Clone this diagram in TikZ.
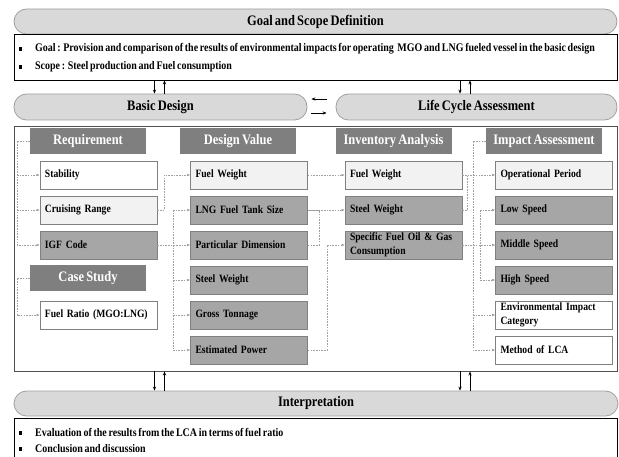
\documentclass[tikz,border=0pt]{standalone}
\usepackage{fontspec}
\setmainfont{Liberation Serif}
\newfontfamily\cf{Liberation Serif}[FakeStretch=0.86,WordSpace=0.7]
\usetikzlibrary{arrows.meta,calc}
\definecolor{pillfill}{HTML}{D9D9D9}
\definecolor{pillbd}{HTML}{A0A0A0}
\definecolor{hdrc}{HTML}{7F7F7F}
\definecolor{boxgray}{HTML}{A6A6A6}
\definecolor{boxlight}{HTML}{F2F2F2}
\definecolor{bordc}{HTML}{808080}
\definecolor{dashc}{HTML}{A0A0A0}
\definecolor{bigbd}{HTML}{505050}
\begin{document}
\begin{tikzpicture}[x=1pt,y=-1pt,
  pill/.style={draw=pillbd, line width=0.8pt, fill=pillfill, rounded corners=12.5pt, inner sep=0pt,
    font=\cf\bfseries\fontsize{14.5}{16}\selectfont},
  hdr/.style={fill=hdrc, draw=none, text=white, inner sep=0pt, minimum width=116pt, minimum height=26pt,
    font=\cf\bfseries\fontsize{14.5}{16}\selectfont},
  bx/.style={draw=bordc, line width=0.6pt, text width=107pt, inner xsep=5pt, inner ysep=0pt,
    minimum height=28pt, align=left, font=\cf\bfseries\fontsize{11.2}{14}\selectfont},
  wbx/.style={bx, fill=white},
  lbx/.style={bx, fill=boxlight},
  gbx/.style={bx, fill=boxgray},
  frame/.style={draw=black, line width=0.8pt, fill=white, inner sep=0pt},
  bul/.style={inner sep=0pt, anchor=base west, font=\cf\bfseries\fontsize{11.6}{13}\selectfont},
  blk/.style={draw=black, line width=0.6pt, -{Stealth[length=4pt,width=3.2pt]}},
  dl/.style={draw=dashc, line width=0.5pt, dash pattern=on 1.6pt off 1.1pt},
  dla/.style={dl, -{Latex[length=3pt,width=2.6pt]}}
]
\useasboundingbox (0,0) rectangle (619,457);

% Top part
\node[pill, minimum width=603pt, minimum height=25pt] (gsd) at (315.5,21.5) {Goal and Scope Definition};
\node[frame, minimum width=603pt, minimum height=46pt] (gb) at (315.5,57) {};
\node[bul] (g1) at (18.5,52) {\makebox[16.5pt][l]{\rule[1.2pt]{3pt}{3.5pt}}Goal : Provision and comparison of the results of environmental impacts for operating \ MGO and LNG fueled vessel in the basic design};
\node[bul] (g2) at (18.5,70) {\makebox[16.5pt][l]{\rule[1.2pt]{3pt}{3.5pt}}Scope : Steel production and Fuel consumption};

\node[pill, minimum width=293pt, minimum height=26pt] (bd) at (160.5,107) {Basic Design};
\node[pill, minimum width=281pt, minimum height=26pt] (lca) at (476.5,107) {Life Cycle Assessment};

\draw[blk] ([xshift=-6pt]bd.north |- gb.south) -- ([xshift=-6pt]bd.north);
\draw[blk] ([xshift=4pt]bd.north) -- ([xshift=4pt]bd.north |- gb.south);
\draw[blk] ([xshift=-16.5pt]lca.north |- gb.south) -- ([xshift=-16.5pt]lca.north);
\draw[blk] ([xshift=-6.5pt]lca.north) -- ([xshift=-6.5pt]lca.north |- gb.south);

\draw[blk] ($(lca.west)+(-9,-8)$) -- ($(bd.east)+(4,-8)$);
\draw[blk] ($(bd.east)+(4,6)$) -- ($(lca.west)+(-9,6)$);

% Big frame
\node[draw=bigbd, line width=0.9pt, fill=white, inner sep=0pt, minimum width=603pt, minimum height=245pt] (big) at (315.5,248.5) {};

% Headers
\node[hdr] (req) at (88,141) {Requirement};
\node[hdr] (dv) at (238,141) {Design Value};
\node[hdr] (inv) at (393.5,141) {Inventory Analysis};
\node[hdr] (ia) at (544,141) {Impact Assessment};
\node[hdr] (cs) at (88,278) {Case Study};

% Column 1
\node[wbx] (stab) at (98.5,175) {Stability};
\node[lbx] (cr) at (98.5,210) {Cruising Range};
\node[gbx] (igf) at (98.5,245) {IGF Code};
\node[wbx] (fr) at (98.5,315) {Fuel Ratio (MGO:LNG)};

% Column 2
\node[lbx] (fw) at (249,175) {Fuel Weight};
\node[gbx] (lng) at (249,210) {LNG Fuel Tank Size};
\node[gbx] (pd) at (249,245) {Particular Dimension};
\node[gbx] (sw) at (249,280) {Steel Weight};
\node[gbx] (gt) at (249,315) {Gross Tonnage};
\node[gbx] (ep) at (249,350) {Estimated Power};

% Column 3
\node[lbx] (fw3) at (403.5,175) {Fuel Weight};
\node[gbx] (sw3) at (403.5,210) {Steel Weight};
\node[gbx] (sfoc) at (403.5,245) {Specific Fuel Oil \& Gas\\Consumption};

% Column 4
\node[lbx] (op) at (554,175) {Operational Period};
\node[gbx] (low) at (554,210) {Low Speed};
\node[gbx] (mid) at (554,245) {Middle Speed};
\node[gbx] (high) at (554,280) {High Speed};
\node[wbx] (env) at (554,315) {Environmental Impact\\Category};
\node[wbx] (meth) at (554,350) {Method of LCA};

% Connectors column 1
\coordinate (t1) at (17,141);
\draw[dla] (req.west) -- (t1) |- (igf.west);
\draw[dla] (t1 |- stab.west) -- (stab.west);
\draw[dla] (t1 |- cr.west) -- (cr.west);
\draw[dla] (cs.west) -- ++(-13,0) |- (fr.west);

% Connectors column 2
\draw[dla] (cr.east) -- ++(7,0) |- (fw.west);
\draw[dla] (igf.east) -- (pd.west);
\coordinate (t2) at (173,210);
\draw[dl] (t2) -- (t2 |- ep.west);
\draw[dla] (t2) -- (lng.west);
\draw[dla] (t2 |- sw.west) -- (sw.west);
\draw[dla] (t2 |- gt.west) -- (gt.west);
\draw[dla] (t2 |- ep.west) -- (ep.west);

% Connectors column 3
\draw[dla] (fw.east) -- (fw3.west);
\draw[dla] (lng.east) -- (sw3.west);
\draw[dl] (pd.east) -- ++(11,0) |- (lng.east);
\draw[dla] (ep.east) -- ++(19,0) |- (sfoc.west);

% Connectors column 4
\draw[dla] (fw3.east) -- (op.west);
\draw[dl] (sw3.east) -- ++(5,0) |- (fw3.east);
\coordinate (t4) at (473,141);
\draw[dla] (ia.west) -- (t4) |- (meth.west);
\draw[dla] (t4 |- env.west) -- (env.west);
\draw[dla] (sfoc.east) -- (mid.west);
\coordinate (t5) at (480,210);
\draw[dla] (t5) -- (low.west);
\draw[dla] (t5) |- (high.west);

% Interpretation
\node[pill, minimum width=604pt, minimum height=25pt] (ip) at (316,403.5) {Interpretation};
\draw[blk] ([xshift=-6pt]bd.north |- big.south) -- ([xshift=-6pt]bd.north |- ip.north);
\draw[blk] ([xshift=4pt]bd.north |- ip.north) -- ([xshift=4pt]bd.north |- big.south);
\draw[blk] ([xshift=-16.5pt]lca.north |- big.south) -- ([xshift=-16.5pt]lca.north |- ip.north);
\draw[blk] ([xshift=-6.5pt]lca.north |- ip.north) -- ([xshift=-6.5pt]lca.north |- big.south);

\node[frame, minimum width=603pt, minimum height=44pt] (ib) at (315.5,440) {};
\node[bul] (i1) at (18.5,436) {\makebox[16.5pt][l]{\rule[1.2pt]{3pt}{3.5pt}}Evaluation of the results from the LCA in terms of fuel ratio};
\node[bul] (i2) at (18.5,452) {\makebox[16.5pt][l]{\rule[1.2pt]{3pt}{3.5pt}}Conclusion and discussion};
\end{tikzpicture}
\end{document}
